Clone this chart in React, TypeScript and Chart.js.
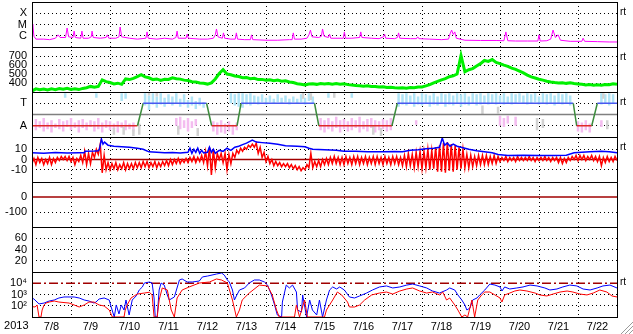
import React, { useEffect, useRef } from 'react';
import { Chart, registerables } from 'chart.js';

Chart.register(...registerables);

// ---------- labels ----------
const YEAR = '2013';
const DAY_LABELS = ['7/8', '7/9', '7/10', '7/11', '7/12', '7/13', '7/14', '7/15', '7/16', '7/17', '7/18', '7/19', '7/20', '7/21', '7/22'];

// ---------- panel 1: X-ray flux [day, W/m2] ----------
const XRAY: [number, number][] = [
  [0, 6e-7], [0.02, 1.1e-5], [0.05, 9e-7], [0.1, 5e-7], [0.3, 5e-7], [0.45, 4.5e-7], [0.6, 6e-7], [0.67, 1.2e-6], [0.72, 7e-7],
  [0.86, 7e-7], [0.9, 4.9e-6], [0.94, 8e-7], [1.05, 7e-7], [1.08, 2.6e-6], [1.11, 7e-7], [1.25, 6e-7], [1.28, 2.6e-6], [1.31, 6e-7],
  [1.45, 6e-7], [1.52, 8e-7], [1.54, 2.6e-6], [1.57, 7e-7], [1.75, 6e-7], [1.9, 7e-7], [1.93, 1.2e-6], [1.97, 6e-7], [2.15, 6e-7],
  [2.23, 8e-7], [2.26, 6e-6], [2.3, 8e-7], [2.5, 6e-7], [2.7, 5e-7], [2.92, 6e-7], [2.95, 2.2e-6], [2.98, 6e-7], [3.2, 5e-7],
  [3.4, 6e-7], [3.6, 5e-7], [3.69, 7e-7], [3.72, 2.6e-6], [3.75, 6e-7], [3.95, 6e-7], [3.98, 1.4e-6], [4.01, 6e-7], [4.3, 5e-7],
  [4.5, 5e-7], [4.65, 6e-7], [4.7, 1.2e-6], [4.73, 4e-6], [4.77, 8e-7], [4.88, 6e-7], [4.91, 1.8e-6], [4.94, 6e-7], [5.1, 5e-7],
  [5.21, 5e-7], [5.24, 1.8e-6], [5.27, 5e-7], [5.45, 4.5e-7], [5.6, 4.5e-7], [5.63, 1.2e-6], [5.66, 4.5e-7], [6.0, 4e-7], [6.3, 4e-7],
  [6.6, 4.5e-7], [6.67, 4.5e-7], [6.7, 1.8e-6], [6.73, 5e-7], [6.9, 5e-7], [7.05, 6e-7], [7.1, 1.2e-6], [7.14, 3.2e-6], [7.18, 8e-7],
  [7.35, 7e-7], [7.42, 9e-7], [7.45, 4e-6], [7.49, 9e-7], [7.6, 7e-7], [7.63, 1.4e-6], [7.66, 6e-7], [7.9, 6e-7], [7.98, 6e-7],
  [8.01, 2.2e-6], [8.04, 6e-7], [8.2, 6e-7], [8.4, 7e-7], [8.43, 2.2e-6], [8.46, 7e-7], [8.7, 6e-7], [8.9, 5.5e-7], [9.01, 8e-7],
  [9.04, 1.4e-6], [9.07, 6e-7], [9.3, 5.5e-7], [9.37, 7e-7], [9.4, 1.8e-6], [9.43, 6e-7], [9.7, 5.5e-7], [9.86, 5.5e-7], [9.89, 8e-7],
  [9.92, 5.5e-7], [10.2, 5e-7], [10.5, 4.5e-7], [10.68, 5e-7], [10.72, 1.5e-6], [10.76, 3.2e-6], [10.8, 1.3e-6], [10.84, 2.2e-6],
  [10.88, 6e-7], [11.1, 4e-7], [11.5, 3.8e-7], [11.9, 3.8e-7], [12.1, 3.6e-7], [12.15, 2.2e-6], [12.2, 3.6e-7], [12.4, 3.4e-7],
  [12.7, 3.4e-7], [12.97, 3.4e-7], [13.0, 1.2e-6], [13.03, 3.4e-7], [13.2, 3.6e-7], [13.3, 5e-7], [13.36, 3.2e-6], [13.42, 7e-7],
  [13.49, 1.2e-6], [13.55, 4e-7], [13.8, 3.2e-7], [14.1, 3.2e-7], [14.13, 6e-7], [14.17, 3.2e-7], [14.5, 3e-7], [14.8, 2.8e-7], [15, 2.8e-7],
];
const XRAY_TICKS = [1e-6, 1e-5, 1e-4];
const XRAY_LABELS = ['C', 'M', 'X'];

// ---------- panel 2: solar wind speed (km/s), one sample every 0.1 day ----------
const SPEED_STEP = 0.1;
const SPEED = [
  311, 335, 325, 333, 322, 335, 326, 338, 330, 340, 328, 337, 327, 340, 348, 362, 352, 362, 435, 415,
  405, 390, 398, 385, 445, 438, 452, 470, 492, 468, 458, 438, 445, 428, 442, 440, 458, 448, 443, 432,
  428, 415, 412, 400, 398, 388, 402, 445, 505, 548, 500, 492, 478, 472, 458, 460, 448, 452, 438, 440,
  430, 436, 425, 432, 420, 425, 412, 405, 392, 385, 378, 388, 392, 385, 395, 388, 395, 386, 393, 385,
  392, 382, 378, 372, 370, 364, 368, 360, 362, 355, 358, 350, 352, 346, 344, 348, 343, 350, 348, 356,
  355, 368, 382, 402, 418, 435, 448, 470, 480, 500, 705, 525, 548, 560, 590, 615, 650, 640, 660, 628,
  615, 598, 585, 565, 552, 532, 512, 488, 468, 455, 442, 432, 420, 412, 405, 400, 403, 396, 402, 395,
  390, 385, 378, 382, 375, 380, 376, 383, 380, 392, 386,
];
const SPEED_TICKS = [400, 500, 600, 700];

// ---------- panel 3: sector (T = +1, A = -1) ----------
const SECTOR: [number, number][] = [
  [0, -1], [2.705, -1], [2.85, 1], [4.477, 1], [4.606, -1], [5.258, -1], [5.361, 1], [7.244, 1], [7.354, -1],
  [9.229, -1], [9.368, 1], [13.879, 1], [13.966, -1], [14.352, -1], [14.496, 1], [15, 1],
];
const SECTOR_TICKS = [1, -1];
const SECTOR_LABELS = ['T', 'A'];
// hourly sector samples drawn as streaks: [day, low, high]
const TOWARD_CLOUD: [number, number, number][] = [
  [0.85, 1.5, 1.9], [1.65, 1.5, 1.9], [2.3, 1.2, 1.9], [2.4, 1.4, 1.9],
  [2.9, 0.8, 1.9], [3.0, 0.4, 1.7], [3.1, 0.9, 1.9], [3.2, 0.6, 1.6], [3.3, 0.9, 1.9], [3.4, 0.7, 1.5], [3.5, 1.0, 1.8],
  [3.6, 0.8, 1.6], [3.7, 1.0, 1.9], [3.8, 0.7, 1.4], [3.9, 0.9, 1.8], [4.0, 0.6, 1.3], [4.1, 0.8, 1.6], [4.2, 0.5, 1.2],
  [4.3, 0.8, 1.5], [4.4, 0.6, 1.1], [5.1, 1.0, 1.9], [5.2, 0.8, 1.8], [5.3, 0.7, 1.9],
  [5.4, 0.6, 1.9], [5.5, 0.9, 1.8], [5.6, 0.8, 1.9], [5.7, 1.0, 1.7], [5.8, 0.9, 1.6], [5.9, 1.1, 1.8], [6.0, 0.9, 1.5],
  [6.1, 1.1, 1.7], [6.2, 1.0, 1.4], [6.3, 1.1, 1.8], [6.4, 1.0, 1.5], [6.5, 1.1, 1.7], [6.6, 0.9, 1.4], [6.7, 1.1, 1.6],
  [6.8, 1.0, 1.4], [6.9, 1.1, 1.8], [7.0, 0.9, 1.5], [7.1, 1.2, 1.9], [7.2, 1.0, 1.6], [7.6, 1.5, 1.9], [8.2, 1.5, 1.9],
  [9.4, 0.7, 1.9], [9.5, 0.9, 1.8], [9.6, 0.8, 1.9], [9.7, 1.0, 1.7], [9.8, 0.7, 1.9], [9.9, 0.9, 1.6], [10.0, 0.8, 1.9],
  [10.1, 1.0, 1.8], [10.2, 0.7, 1.7], [10.3, 0.9, 1.9], [10.4, 0.8, 1.6], [10.5, 1.0, 1.9], [10.6, 0.7, 1.8], [10.7, 0.9, 1.9],
  [10.8, 0.8, 1.7], [10.9, 1.0, 1.9], [11.0, 0.7, 1.8], [11.1, 0.9, 1.9], [11.2, 0.8, 1.6], [11.3, 1.0, 1.9], [11.4, 0.8, 1.8],
  [11.5, 0.9, 1.9], [11.6, 1.0, 1.7], [11.7, 0.9, 1.9], [11.8, 1.0, 1.8], [11.9, 0.9, 1.9], [12.0, 1.0, 1.7], [12.1, 0.9, 1.9],
  [12.2, 1.0, 1.6], [12.3, 0.9, 1.9], [12.4, 1.0, 1.8], [12.5, 1.1, 1.9], [12.6, 1.0, 1.7], [12.7, 0.9, 1.9], [12.8, 1.0, 1.8],
  [12.9, 1.1, 1.9], [13.0, 0.9, 1.6], [13.1, 1.0, 1.9], [13.2, 0.9, 1.8], [13.3, 1.0, 1.9], [13.4, 0.8, 1.7], [13.5, 1.0, 1.9],
  [13.6, 0.9, 1.8], [13.7, 1.0, 1.9], [13.8, 0.8, 1.7], [14.6, 0.9, 1.9], [14.7, 1.0, 1.8], [14.8, 0.8, 1.9], [14.9, 1.0, 1.8],
];
const AWAY_CLOUD: [number, number, number][] = [
  [0.1, -0.4, -1.4], [0.2, -0.6, -1.2], [0.3, -0.3, -1.5], [0.4, -0.7, -1.3], [0.5, -0.5, -1.6], [0.6, -0.8, -1.2],
  [0.7, -0.4, -1.3], [0.8, -0.6, -1.5], [0.9, -0.5, -1.1], [1.0, -0.3, -1.4], [1.1, -0.7, -1.2], [1.2, -0.5, -1.6],
  [1.3, -0.4, -1.2], [1.4, -0.7, -1.4], [1.5, -0.5, -1.1], [1.6, -0.6, -1.5], [1.7, -0.3, -1.3], [1.8, -0.7, -1.6],
  [1.9, -0.5, -1.2], [2.0, -0.6, -1.4], [2.1, -0.8, -1.3], [2.2, -0.6, -1.6], [2.3, -0.7, -1.2], [2.4, -0.5, -1.4],
  [2.5, -0.8, -1.3], [2.6, -0.7, -1.5], [3.7, -0.3, -1.0], [3.8, -0.2, -1.3], [3.9, -0.5, -1.2], [4.0, -0.3, -1.5],
  [4.1, -0.6, -1.2], [4.2, -0.4, -1.0], [4.65, -0.6, -1.5], [4.75, -0.7, -1.8], [4.85, -0.5, -1.6], [4.95, -0.8, -1.7],
  [5.05, -0.6, -1.5], [5.15, -0.9, -1.8], [5.25, -0.7, -1.4], [7.4, -0.3, -1.4], [7.5, -0.5, -1.6], [7.6, -0.3, -1.3],
  [7.7, -0.6, -1.5], [7.8, -0.2, -1.2], [7.9, -0.5, -1.6], [8.0, -0.4, -1.3], [8.1, -0.6, -1.5], [8.2, -0.3, -1.4],
  [8.3, -0.5, -1.2], [8.4, -0.2, -1.6], [8.5, -0.6, -1.3], [8.6, -0.4, -1.5], [8.7, -0.3, -1.2], [8.8, -0.5, -1.6],
  [8.9, -0.6, -1.4], [9.0, -0.4, -1.3], [9.1, -0.5, -1.5], [9.2, -0.3, -1.4], [9.85, -0.5, -0.9], [12.0, -0.1, -1.0],
  [12.1, -0.3, -1.1], [12.2, -0.1, -0.8], [12.4, -0.2, -1.0], [14.0, -0.6, -1.5], [14.1, -0.7, -1.6], [14.2, -0.5, -1.4],
  [14.3, -0.8, -1.6], [14.6, -0.5, -1.1],
];
const GRAY_CLOUD: [number, number, number][] = [
  [2.1, -1.2, -1.8], [2.35, -1.1, -1.8], [2.6, -1.3, -1.9], [2.75, -0.8, -1.8], [3.0, 1.7, 1.95], [3.2, 1.6, 1.95],
  [3.75, -1.0, -1.8], [4.25, -1.2, -1.9], [6.95, 1.4, 1.95], [7.15, 1.3, 1.9], [7.75, 1.5, 1.95], [8.75, -1.0, -1.8],
  [8.95, -1.2, -1.9], [11.55, 0.0, 0.8], [11.95, 0.1, 0.7], [12.95, -0.3, -1.4], [13.1, -0.4, -1.2], [14.65, 1.4, 1.9],
  [14.75, -0.5, -1.3],
];

// ---------- panel 4: IMF (nT) ----------
const BT: [number, number][] = [
  [0, 6.5], [0.3, 6.2], [0.6, 6.8], [0.9, 6.3], [1.2, 6.7], [1.34, 6.5], [1.36, 8], [1.6, 8.3], [1.7, 8.6], [1.73, 10],
  [1.78, 20], [1.82, 15], [1.86, 17], [1.95, 14], [2.1, 13], [2.3, 12.5], [2.5, 12], [2.7, 11], [2.85, 10], [3.0, 7.5],
  [3.2, 7], [3.4, 6.5], [3.6, 6.8], [3.8, 6.3], [4.0, 7], [4.05, 11], [4.1, 6], [4.15, 10], [4.2, 7], [4.25, 11], [4.3, 6],
  [4.35, 9], [4.4, 6.5], [4.5, 7], [4.55, 12], [4.6, 7], [4.65, 10], [4.7, 6], [4.8, 9], [4.9, 8], [5.0, 11], [5.1, 9],
  [5.2, 12], [5.3, 13], [5.4, 14.5], [5.5, 16], [5.6, 18], [5.65, 19], [5.75, 17], [5.9, 16.5], [6.1, 16], [6.3, 15],
  [6.5, 13.5], [6.8, 13], [7.0, 12.5], [7.1, 11], [7.2, 10], [7.5, 9.5], [7.8, 9], [8.0, 8], [8.3, 8], [8.6, 7.5], [9.0, 7.5],
  [9.3, 7.8], [9.5, 7.5], [9.7, 9], [9.9, 9.5], [10.1, 10.5], [10.3, 11], [10.45, 12], [10.52, 21], [10.58, 14], [10.65, 16],
  [10.72, 13], [10.8, 15], [10.9, 13], [11.0, 12], [11.2, 10], [11.4, 8.5], [11.6, 7.5], [11.8, 6.5], [11.95, 5], [12.2, 4],
  [12.6, 4.2], [13.0, 3.8], [13.4, 4], [13.7, 4.2], [13.9, 6.5], [14.1, 7], [14.3, 7.5], [14.6, 8], [14.8, 7.5], [15, 6.5],
];
// Bz min / max in each 0.1-day bin
const BZ_STEP = 0.1;
const BZ_LOW = [
  -4, -5, -3, -5, -4, -5, -3, -1, 0, -1, -2, -5, -2, -3, -5, -4, 2, 5, -13, -10,
  -10, -9, -10, -9, -10, -9, -9, -8, -8, -7, -8, -7, -8, -7, -6, -6, -5, -4, -4, -3,
  -3, -2, -3, -2, -3, -6, -15, -8, 0, -3, -10, -4, 2, 6, 8, 10, 12, 12, 6, 2,
  -2, -4, -6, -6, -7, -7, -8, -9, -10, -11, -10, -8, -8, -7, -7, -5, -5, -4, -4, -5,
  -5, -4, -5, -4, -5, -4, -5, -4, -5, -4, -5, -4, -5, -4, -5, -6, -7, -6, -8, -7,
  -9, -8, -10, -9, -12, -12, -13, -11, -12, -10, -9, -8, -8, -7, -6, -5, -5, -5, -4, -4,
  -2, -1, -2, -1, -2, -1, -1, -1, -1, -2, -1, -1, -1, -2, -1, -3, -4, -3, -1, 0,
  -1, 0, -1, 0, -1, -2, -6, -3, -2, -2, -1,
];
const BZ_HIGH = [
  1, 2, 1, 0, 2, 1, 2, 3, 3, 3, 2, 1, 4, 8, 6, 7, 10, 15, 4, -3,
  -4, -3, -5, -3, -4, -4, -3, -3, -2, -2, -3, -2, -3, -2, -1, 0, 0, 1, 0, 1,
  2, 3, 2, 4, 8, 12, 10, 6, 6, 6, 5, 6, 9, 11, 12, 14, 15, 16, 12, 7,
  3, 0, -2, -3, -4, -4, -5, -6, -7, -8, -5, 6, -2, -1, 0, 1, 2, 3, 2, 2,
  3, 2, 3, 3, 2, 3, 2, 3, 3, 2, 3, 2, 3, 3, 2, 4, 6, 5, 7, 8,
  8, 10, 9, 12, 14, 16, 17, 15, 14, 12, 10, 5, 4, 3, 4, 4, 4, 3, 4, 3,
  2, 3, 2, 2, 3, 2, 2, 3, 2, 2, 2, 3, 2, 2, 2, 2, 1, 2, 3, 4,
  4, 4, 3, 4, 3, 3, 2, 3, 2, 3, 2,
];
const IMF_TICKS = [10, 0, -10];

// ---------- panels 5 & 6 ----------
const DST_TICKS = [0, -100];
const KP_TICKS = [60, 40, 20];

// ---------- panel 7: electron flux, [day, log10 flux] ----------
const E_BLUE_LOG: [number, number][] = [
  [0, 2.69], [0.05, 2.6], [0.18, 2.16], [0.31, 2.24], [0.44, 2.42], [0.57, 2.51], [0.69, 2.69], [0.82, 2.78], [1.08, 2.78],
  [1.21, 2.69], [1.34, 2.51], [1.46, 2.42], [1.59, 2.24], [1.64, 2.33], [1.72, 2.6], [1.85, 2.69], [1.98, 2.51], [2.03, 1.89],
  [2.11, 1.0], [2.16, 2.07], [2.23, 1.27], [2.29, 2.07], [2.36, 1.62], [2.41, 2.51], [2.49, 1.18], [2.57, 2.51], [2.62, 2.69],
  [2.67, 2.87], [2.75, 3.4], [2.83, 3.67], [2.88, 4.02], [3.01, 4.11], [3.08, 4.02], [3.13, 2.69], [3.16, 1.0], [3.21, 1.0],
  [3.26, 3.4], [3.31, 4.02], [3.39, 3.84], [3.47, 2.96], [3.52, 2.51], [3.65, 2.78], [3.78, 4.29], [3.85, 4.38], [3.98, 4.11],
  [4.11, 4.11], [4.29, 4.2], [4.37, 4.56], [4.5, 4.64], [4.73, 4.82], [4.86, 4.91], [4.93, 4.73], [5.01, 4.29], [5.06, 4.11],
  [5.14, 3.4], [5.19, 2.51], [5.24, 2.87], [5.32, 3.4], [5.45, 3.58], [5.57, 4.02], [5.7, 4.29], [5.83, 4.29], [5.96, 4.11],
  [6.04, 3.84], [6.14, 2.96], [6.22, 2.07], [6.29, 1.18], [6.4, 1.0], [6.42, 2.33], [6.52, 3.84], [6.6, 3.58], [6.68, 3.84],
  [6.78, 3.22], [6.81, 1.62], [6.91, 1.44], [6.94, 2.96], [7.04, 1.0], [7.12, 2.51], [7.19, 1.62], [7.3, 1.18], [7.37, 2.51],
  [7.45, 1.0], [7.55, 2.51], [7.63, 3.4], [7.71, 3.67], [7.81, 3.49], [7.89, 3.67], [8.01, 3.4], [8.14, 2.78], [8.27, 2.69],
  [8.4, 2.87], [8.58, 3.13], [8.73, 3.4], [8.91, 3.67], [9.09, 3.76], [9.25, 3.58], [9.43, 3.67], [9.61, 3.84], [9.76, 3.93],
  [9.94, 3.76], [10.12, 3.58], [10.27, 3.31], [10.45, 3.13], [10.63, 3.4], [10.71, 3.58], [10.84, 3.4], [10.92, 2.96],
  [11.02, 2.51], [11.1, 2.07], [11.15, 1.62], [11.23, 1.8], [11.3, 2.51], [11.41, 2.69], [11.48, 2.96], [11.61, 3.4],
  [11.74, 3.93], [11.87, 3.84], [12.0, 3.67], [12.05, 3.31], [12.12, 3.67], [12.25, 3.49], [12.43, 3.58], [12.59, 3.67],
  [12.77, 3.84], [12.95, 3.76], [13.15, 3.58], [13.28, 3.4], [13.46, 3.49], [13.61, 3.67], [13.79, 3.84], [13.97, 3.76],
  [14.13, 3.49], [14.31, 3.4], [14.49, 3.58], [14.64, 3.76], [14.82, 3.84], [15, 3.58],
];
const E_RED_LOG: [number, number][] = [
  [0, 1.92], [0.08, 1.89], [0.13, 2.07], [0.18, 1.0], [0.23, 1.0], [0.26, 1.62], [0.31, 2.07], [0.36, 2.24], [0.44, 2.33],
  [0.57, 2.42], [0.69, 2.33], [0.95, 2.24], [1.08, 2.07], [1.21, 1.89], [1.34, 2.07], [1.46, 2.33], [1.59, 2.33], [1.72, 2.07],
  [1.85, 1.98], [1.98, 1.62], [2.06, 1.0], [2.36, 1.0], [2.39, 1.62], [2.44, 2.07], [2.54, 2.69], [2.62, 2.87], [2.7, 3.04],
  [2.88, 3.13], [3.01, 3.2], [3.08, 2.96], [3.13, 1.0], [3.21, 1.0], [3.26, 2.51], [3.34, 3.58], [3.47, 3.4], [3.57, 1.62],
  [3.65, 1.0], [3.72, 2.69], [3.85, 3.4], [4.03, 3.67], [4.29, 4.02], [4.55, 4.11], [4.73, 4.38], [4.86, 4.29], [5.01, 4.02],
  [5.14, 2.51], [5.24, 1.0], [5.32, 1.62], [5.39, 2.51], [5.57, 3.13], [5.83, 3.84], [6.04, 3.76], [6.16, 2.96], [6.27, 1.62],
  [6.34, 1.0], [6.73, 1.0], [6.78, 2.07], [6.86, 1.0], [6.99, 2.51], [7.06, 1.0], [7.5, 1.0], [7.55, 1.62], [7.71, 2.51],
  [7.83, 3.22], [7.94, 2.96], [8.09, 2.33], [8.14, 1.89], [8.27, 1.89], [8.4, 2.07], [8.53, 2.51], [8.71, 2.96], [8.91, 3.13],
  [9.09, 3.22], [9.25, 3.04], [9.43, 3.31], [9.61, 3.49], [9.76, 3.58], [9.94, 3.31], [10.12, 3.13], [10.27, 3.22],
  [10.45, 2.96], [10.53, 3.22], [10.63, 2.51], [10.71, 2.69], [10.84, 2.07], [10.92, 1.62], [11.02, 1.0], [11.1, 1.18],
  [11.17, 1.0], [11.28, 2.51], [11.35, 1.0], [11.43, 2.51], [11.53, 2.96], [11.61, 3.22], [11.74, 3.22], [11.87, 2.96],
  [12.0, 2.69], [12.05, 2.33], [12.12, 2.96], [12.25, 3.13], [12.38, 3.31], [12.51, 3.4], [12.69, 3.31], [12.9, 3.13],
  [13.02, 2.96], [13.2, 2.87], [13.36, 3.04], [13.54, 3.22], [13.72, 3.31], [13.87, 3.22], [14.05, 3.04], [14.23, 2.96],
  [14.39, 3.13], [14.56, 3.4], [14.74, 3.22], [14.87, 2.87], [15, 2.78],
];
const E_TICKS = [1e4, 1e3, 1e2];
const E_LABELS = ['10\u2074', '10\u00b3', '10\u00b2'];
const E_ALERT = 1e4;

// ---------- styling ----------
const FONT = "'Liberation Sans', Arial, Helvetica, sans-serif";
const DOT = [1, 3];
const CLEAR = 'rgba(0,0,0,0)';
const DARK_RED = '#a00000';
const PANELS = ['yX', 'yV', 'yS', 'yB', 'yD', 'yK', 'yE'];
const RT_PANELS = ['yX', 'yV', 'yS', 'yB', 'yE'];

Chart.defaults.font.family = FONT;

function zeroPad(s: any) {
  s.paddingTop = 0; s.paddingBottom = 0; s.paddingLeft = 0; s.paddingRight = 0;
}

function panelScale(weight: number, type: string, min: number, max: number, ticks: number[], labels: string[], grid: number[]) {
  return {
    type, min, max, position: 'left', stack: 'panels', stackWeight: 1, weight, offset: false,
    border: { display: false, dash: DOT },
    grid: {
      drawTicks: false, lineWidth: 1,
      color: (c: any) => (c.tick && grid.includes(c.tick.value) ? '#000' : CLEAR),
    },
    ticks: {
      padding: 5, color: '#000', font: { size: 11, family: FONT }, autoSkip: false,
      callback: (v: any) => { const i = ticks.indexOf(Number(v)); return i >= 0 ? labels[i] : ''; },
    },
    afterBuildTicks: (s: any) => { s.ticks = ticks.map((v) => ({ value: v })); },
    afterFit: (s: any) => { s.width = 32; zeroPad(s); },
  };
}

const pts = (a: [number, number][]) => a.map(([x, y]) => ({ x, y }));
const stepPts = (vals: number[], step: number) => vals.map((y, i) => ({ x: i * step, y }));
const logPts = (a: [number, number][]) => a.map(([x, l]) => ({ x, y: Math.pow(10, l) }));
const streaks = (a: [number, number, number][]) => a.flatMap(([d, lo, hi]) => [{ x: d, y: lo }, { x: d, y: hi }, { x: d, y: null }]);
// min/max per bin drawn as a scribble: min at the bin start, max half a bin later
const minMaxPts = (lo: number[], hi: number[], step: number) =>
  lo.flatMap((l, i) => [{ x: i * step, y: l }, { x: i * step + step / 2, y: hi[i] }]);
const hline = (v: number) => [{ x: 0, y: v }, { x: DAY_LABELS.length, y: v }];

function line(yAxisID: string, data: any[], color: string, width: number, order: number, extra: any = {}) {
  return { type: 'line', yAxisID, xAxisID: 'x', data, borderColor: color, borderWidth: width, pointRadius: 0, tension: 0, fill: false, order, ...extra };
}

const framePlugin = {
  id: 'panelFrame',
  afterDraw(chart: any) {
    const { ctx, chartArea } = chart;
    const L = Math.round(chartArea.left) + 0.5;
    const R = Math.round(chartArea.right) + 0.5;
    ctx.save();
    ctx.setLineDash([]);
    ctx.strokeStyle = '#000';
    ctx.lineWidth = 1;
    ctx.beginPath();
    ctx.moveTo(L, chartArea.top); ctx.lineTo(L, chartArea.bottom);
    ctx.moveTo(R, chartArea.top); ctx.lineTo(R, chartArea.bottom);
    for (const id of PANELS) {
      const s = chart.scales[id];
      for (const yy of [s.top, s.bottom]) {
        const y = Math.round(yy) + 0.5;
        ctx.moveTo(L - 0.5, y); ctx.lineTo(R + 0.5, y);
      }
    }
    ctx.stroke();
    ctx.fillStyle = '#000';
    ctx.font = `10px ${FONT}`;
    ctx.textAlign = 'left';
    ctx.textBaseline = 'alphabetic';
    for (const id of RT_PANELS) {
      const s = chart.scales[id];
      ctx.fillText('rt', R + 2.5, s.top + 12.5);
    }
    ctx.font = `11px ${FONT}`;
    ctx.textAlign = 'right';
    ctx.textBaseline = 'middle';
    ctx.fillText(YEAR, L - 4, chart.scales.x.top + 9);
    // window resize grip
    const W = chart.width, H = chart.height;
    ctx.lineWidth = 1;
    for (const k of [4, 8, 12]) {
      ctx.strokeStyle = '#9a9a9a';
      ctx.beginPath(); ctx.moveTo(W - k, H); ctx.lineTo(W, H - k); ctx.stroke();
      ctx.strokeStyle = '#ffffff';
      ctx.beginPath(); ctx.moveTo(W - k + 1, H); ctx.lineTo(W, H - k + 1); ctx.stroke();
    }
    ctx.restore();
  },
};

export default function App() {
  const ref = useRef<HTMLCanvasElement>(null);
  useEffect(() => {
    document.body.style.margin = '0';
    const N = DAY_LABELS.length;
    const cloud = { borderCapStyle: 'butt', spanGaps: false };
    const datasets: any[] = [
      // panel 1
      line('yX', pts(XRAY), '#ff00ff', 1, 1),
      // panel 2
      line('yV', stepPts(SPEED, SPEED_STEP), '#00f000', 3, 1),
      // panel 3
      line('yS', streaks(TOWARD_CLOUD), '#b0e4f6', 2.5, 30, cloud),
      line('yS', streaks(AWAY_CLOUD), '#f4bcf0', 2.5, 29, cloud),
      line('yS', streaks(GRAY_CLOUD), '#d2d2d2', 2.5, 28, cloud),
      line('yS', hline(0), '#808080', 1.5, 20),
      line('yS', pts(SECTOR), '#4858f0', 1.5, 1, {
        segment: {
          borderColor: (c: any) => (c.p0.parsed.y !== c.p1.parsed.y ? '#3c8c3c' : c.p0.parsed.y > 0 ? '#4858f0' : '#e02828'),
        },
      }),
      // panel 4
      line('yB', hline(0), DARK_RED, 1.5, 20),
      line('yB', minMaxPts(BZ_LOW, BZ_HIGH, BZ_STEP), '#ff0000', 1.5, 3),
      line('yB', pts(BT), '#0000ff', 1.5, 2),
      // panel 5
      line('yD', hline(0), DARK_RED, 1.5, 20),
      // panel 7
      line('yE', hline(E_ALERT), DARK_RED, 1.5, 20, { borderDash: [9, 3, 2, 3] }),
      line('yE', logPts(E_BLUE_LOG), '#0000ff', 1, 3),
      line('yE', logPts(E_RED_LOG), '#ff0000', 1, 2),
    ];
    const halfTicks = Array.from({ length: 2 * N + 1 }, (_, i) => i / 2);
    const chart = new Chart(ref.current as HTMLCanvasElement, {
      type: 'line',
      data: { datasets },
      options: {
        responsive: false,
        animation: false,
        devicePixelRatio: 1,
        events: [],
        layout: { padding: { left: 0, right: 16, top: 2, bottom: 0 } },
        plugins: { legend: { display: false }, tooltip: { enabled: false } },
        scales: {
          x: {
            type: 'linear', min: 0, max: N, position: 'bottom', offset: false,
            border: { display: false, dash: DOT },
            grid: {
              drawTicks: false, offset: false, lineWidth: 1,
              color: (c: any) => {
                const v = c.tick ? c.tick.value : -1;
                return v > 0 && v < N && Number.isInteger(v) ? '#000' : CLEAR;
              },
            },
            ticks: {
              padding: 3, autoSkip: false, maxRotation: 0, color: '#000', font: { size: 11, family: FONT },
              callback: (v: any) => (Number.isInteger(Number(v)) ? '' : DAY_LABELS[Math.floor(Number(v))]),
            },
            afterBuildTicks: (s: any) => { s.ticks = halfTicks.map((v) => ({ value: v })); },
            afterFit: (s: any) => { s.height = 17; zeroPad(s); },
          },
          yX: panelScale(7, 'logarithmic', 1e-7, 1e-3, XRAY_TICKS, XRAY_LABELS, XRAY_TICKS),
          yV: panelScale(6, 'linear', 300, 800, SPEED_TICKS, SPEED_TICKS.map(String), SPEED_TICKS),
          yS: panelScale(5, 'linear', -2, 2, SECTOR_TICKS, SECTOR_LABELS, SECTOR_TICKS),
          yB: panelScale(4, 'linear', -22, 22, IMF_TICKS, IMF_TICKS.map(String), [10, -10]),
          yD: panelScale(3, 'linear', -200, 100, DST_TICKS, DST_TICKS.map(String), [-100]),
          yK: panelScale(2, 'linear', 0, 80, KP_TICKS, KP_TICKS.map(String), KP_TICKS),
          yE: panelScale(1, 'logarithmic', 1e1, 1e5, E_TICKS, E_LABELS, [1e3, 1e2]),
        } as any,
      },
      plugins: [framePlugin],
    } as any);
    return () => chart.destroy();
  }, []);
  return (
    <div style={{ position: 'relative', width: 633, height: 334, background: '#fff' }}>
      <canvas ref={ref} width={633} height={334} style={{ display: 'block', width: 633, height: 334 }} />
    </div>
  );
}
